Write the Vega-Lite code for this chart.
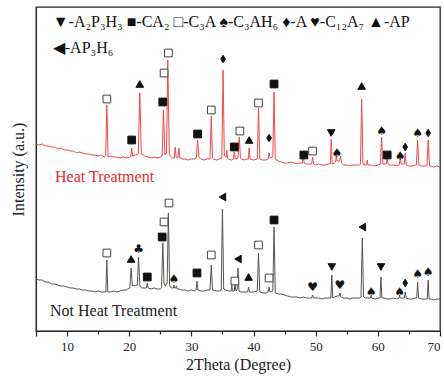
{
"$schema":"https://vega.github.io/schema/vega-lite/v6.json",
"width":404,"height":324,"autosize":"none",
"padding":{"left":36,"top":7,"right":4,"bottom":53},
"config":{"view":{"stroke":"#222","strokeWidth":1.3},"font":"Liberation Serif","background":"white"},
"datasets":{
"curves":[
{"s":"H","x":5,"y":187},{"s":"H","x":5.5,"y":186},{"s":"H","x":6,"y":187},{"s":"H","x":6.5,"y":185},{"s":"H","x":7,"y":185},{"s":"H","x":7.5,"y":184},{"s":"H","x":8,"y":184},{"s":"H","x":8.5,"y":182},{"s":"H","x":9,"y":183},{"s":"H","x":9.5,"y":181},{"s":"H","x":10,"y":181},{"s":"H","x":10.5,"y":180},{"s":"H","x":11,"y":180},{"s":"H","x":11.5,"y":178},{"s":"H","x":12,"y":179},{"s":"H","x":12.5,"y":178},{"s":"H","x":13,"y":177},{"s":"H","x":13.5,"y":177},{"s":"H","x":14,"y":176},{"s":"H","x":14.5,"y":176},{"s":"H","x":15,"y":175},{"s":"H","x":15.5,"y":176},{"s":"H","x":16,"y":174},{"s":"H","x":16.2,"y":175},{"s":"H","x":16.4,"y":226},{"s":"H","x":16.6,"y":174},{"s":"H","x":17,"y":175},{"s":"H","x":17.5,"y":174},{"s":"H","x":18,"y":174},{"s":"H","x":18.5,"y":173},{"s":"H","x":19,"y":174},{"s":"H","x":19.5,"y":173},{"s":"H","x":20,"y":174},{"s":"H","x":20.25,"y":174},{"s":"H","x":20.4,"y":183},{"s":"H","x":20.55,"y":175},{"s":"H","x":21,"y":176},{"s":"H","x":21.45,"y":177},{"s":"H","x":21.7,"y":238},{"s":"H","x":21.95,"y":177},{"s":"H","x":22.5,"y":175},{"s":"H","x":23,"y":174},{"s":"H","x":23.5,"y":173},{"s":"H","x":24,"y":174},{"s":"H","x":24.5,"y":173},{"s":"H","x":25,"y":174},{"s":"H","x":25.3,"y":175},{"s":"H","x":25.5,"y":221},{"s":"H","x":25.75,"y":176},{"s":"H","x":26,"y":178},{"s":"H","x":26.2,"y":271},{"s":"H","x":26.45,"y":176},{"s":"H","x":26.8,"y":174},{"s":"H","x":27,"y":173},{"s":"H","x":27.25,"y":173},{"s":"H","x":27.4,"y":184},{"s":"H","x":27.55,"y":174},{"s":"H","x":27.75,"y":173},{"s":"H","x":27.85,"y":174},{"s":"H","x":28,"y":183},{"s":"H","x":28.15,"y":173},{"s":"H","x":28.5,"y":172},{"s":"H","x":29,"y":172},{"s":"H","x":29.5,"y":171},{"s":"H","x":30,"y":172},{"s":"H","x":30.5,"y":172},{"s":"H","x":30.8,"y":173},{"s":"H","x":31,"y":191},{"s":"H","x":31.2,"y":174},{"s":"H","x":31.5,"y":172},{"s":"H","x":32,"y":171},{"s":"H","x":32.5,"y":172},{"s":"H","x":33,"y":172},{"s":"H","x":33.2,"y":215},{"s":"H","x":33.4,"y":173},{"s":"H","x":33.6,"y":172},{"s":"H","x":34,"y":171},{"s":"H","x":34.5,"y":172},{"s":"H","x":34.9,"y":173},{"s":"H","x":35.1,"y":261},{"s":"H","x":35.3,"y":175},{"s":"H","x":35.5,"y":174},{"s":"H","x":35.6,"y":174},{"s":"H","x":35.7,"y":181},{"s":"H","x":35.8,"y":173},{"s":"H","x":36,"y":172},{"s":"H","x":36.5,"y":171},{"s":"H","x":36.75,"y":172},{"s":"H","x":36.9,"y":179},{"s":"H","x":37.05,"y":172},{"s":"H","x":37.5,"y":173},{"s":"H","x":37.7,"y":194},{"s":"H","x":37.9,"y":173},{"s":"H","x":38.1,"y":172},{"s":"H","x":38.5,"y":171},{"s":"H","x":39,"y":172},{"s":"H","x":39.15,"y":172},{"s":"H","x":39.3,"y":183},{"s":"H","x":39.45,"y":172},{"s":"H","x":40,"y":171},{"s":"H","x":40.6,"y":172},{"s":"H","x":40.8,"y":223},{"s":"H","x":41,"y":172},{"s":"H","x":41.5,"y":171},{"s":"H","x":42,"y":171},{"s":"H","x":42.35,"y":172},{"s":"H","x":42.5,"y":178},{"s":"H","x":42.65,"y":173},{"s":"H","x":43.1,"y":174},{"s":"H","x":43.3,"y":239},{"s":"H","x":43.5,"y":172},{"s":"H","x":44,"y":170},{"s":"H","x":44.5,"y":169},{"s":"H","x":45,"y":168},{"s":"H","x":45.5,"y":168},{"s":"H","x":46,"y":169},{"s":"H","x":46.5,"y":168},{"s":"H","x":47,"y":167},{"s":"H","x":47.5,"y":168},{"s":"H","x":47.85,"y":168},{"s":"H","x":48,"y":174},{"s":"H","x":48.15,"y":168},{"s":"H","x":48.5,"y":167},{"s":"H","x":49,"y":167},{"s":"H","x":49.35,"y":167},{"s":"H","x":49.5,"y":174},{"s":"H","x":49.65,"y":167},{"s":"H","x":50,"y":166},{"s":"H","x":50.5,"y":167},{"s":"H","x":51,"y":166},{"s":"H","x":51.5,"y":166},{"s":"H","x":52,"y":167},{"s":"H","x":52.35,"y":167},{"s":"H","x":52.5,"y":192},{"s":"H","x":52.65,"y":167},{"s":"H","x":53,"y":168},{"s":"H","x":53.2,"y":169},{"s":"H","x":53.3,"y":176},{"s":"H","x":53.45,"y":170},{"s":"H","x":53.85,"y":170},{"s":"H","x":54,"y":175},{"s":"H","x":54.15,"y":168},{"s":"H","x":54.5,"y":166},{"s":"H","x":55,"y":166},{"s":"H","x":55.5,"y":165},{"s":"H","x":56,"y":166},{"s":"H","x":56.5,"y":166},{"s":"H","x":57,"y":166},{"s":"H","x":57.2,"y":167},{"s":"H","x":57.4,"y":232},{"s":"H","x":57.6,"y":167},{"s":"H","x":58,"y":166},{"s":"H","x":58.2,"y":166},{"s":"H","x":58.3,"y":171},{"s":"H","x":58.4,"y":166},{"s":"H","x":59,"y":166},{"s":"H","x":59.5,"y":165},{"s":"H","x":60,"y":166},{"s":"H","x":60.4,"y":167},{"s":"H","x":60.6,"y":194},{"s":"H","x":60.8,"y":167},{"s":"H","x":61.35,"y":167},{"s":"H","x":61.5,"y":173},{"s":"H","x":61.65,"y":167},{"s":"H","x":62,"y":166},{"s":"H","x":62.5,"y":166},{"s":"H","x":63,"y":165},{"s":"H","x":63.45,"y":166},{"s":"H","x":63.6,"y":173},{"s":"H","x":63.75,"y":167},{"s":"H","x":64,"y":167},{"s":"H","x":64.25,"y":167},{"s":"H","x":64.4,"y":178},{"s":"H","x":64.55,"y":166},{"s":"H","x":65,"y":165},{"s":"H","x":65.5,"y":165},{"s":"H","x":66,"y":166},{"s":"H","x":66.2,"y":166},{"s":"H","x":66.4,"y":191},{"s":"H","x":66.6,"y":166},{"s":"H","x":67,"y":165},{"s":"H","x":67.5,"y":165},{"s":"H","x":67.9,"y":165},{"s":"H","x":68.1,"y":191},{"s":"H","x":68.3,"y":165},{"s":"H","x":68.5,"y":165},{"s":"H","x":69,"y":164},{"s":"H","x":69.5,"y":165},{"s":"H","x":70,"y":164},
{"s":"N","x":5,"y":52},{"s":"N","x":5.5,"y":51},{"s":"N","x":6,"y":51},{"s":"N","x":6.5,"y":49},{"s":"N","x":7,"y":49},{"s":"N","x":7.5,"y":47},{"s":"N","x":8,"y":47},{"s":"N","x":8.5,"y":46},{"s":"N","x":9,"y":45},{"s":"N","x":9.5,"y":45},{"s":"N","x":10,"y":44},{"s":"N","x":10.5,"y":43},{"s":"N","x":11,"y":43},{"s":"N","x":11.5,"y":42},{"s":"N","x":12,"y":42},{"s":"N","x":12.5,"y":41},{"s":"N","x":13,"y":41},{"s":"N","x":13.5,"y":40},{"s":"N","x":14,"y":40},{"s":"N","x":14.5,"y":39},{"s":"N","x":15,"y":40},{"s":"N","x":15.5,"y":39},{"s":"N","x":16,"y":39},{"s":"N","x":16.25,"y":39},{"s":"N","x":16.4,"y":71},{"s":"N","x":16.55,"y":39},{"s":"N","x":17,"y":39},{"s":"N","x":17.5,"y":40},{"s":"N","x":18,"y":39},{"s":"N","x":18.5,"y":40},{"s":"N","x":19,"y":41},{"s":"N","x":19.5,"y":41},{"s":"N","x":20.1,"y":43},{"s":"N","x":20.3,"y":63},{"s":"N","x":20.5,"y":45},{"s":"N","x":21.3,"y":46},{"s":"N","x":21.5,"y":74},{"s":"N","x":21.7,"y":45},{"s":"N","x":22,"y":43},{"s":"N","x":22.5,"y":43},{"s":"N","x":22.75,"y":43},{"s":"N","x":22.9,"y":48},{"s":"N","x":23.05,"y":43},{"s":"N","x":23.5,"y":42},{"s":"N","x":24,"y":43},{"s":"N","x":24.5,"y":42},{"s":"N","x":25,"y":42},{"s":"N","x":25.2,"y":43},{"s":"N","x":25.4,"y":88},{"s":"N","x":25.6,"y":47},{"s":"N","x":25.8,"y":45},{"s":"N","x":26.1,"y":48},{"s":"N","x":26.3,"y":118},{"s":"N","x":26.5,"y":45},{"s":"N","x":26.8,"y":43},{"s":"N","x":27.1,"y":43},{"s":"N","x":27.2,"y":46},{"s":"N","x":27.3,"y":43},{"s":"N","x":27.5,"y":43},{"s":"N","x":27.6,"y":45},{"s":"N","x":27.7,"y":42},{"s":"N","x":28,"y":42},{"s":"N","x":28.5,"y":41},{"s":"N","x":29,"y":41},{"s":"N","x":29.5,"y":40},{"s":"N","x":30,"y":41},{"s":"N","x":30.5,"y":40},{"s":"N","x":30.75,"y":41},{"s":"N","x":30.9,"y":50},{"s":"N","x":31.05,"y":41},{"s":"N","x":31.5,"y":40},{"s":"N","x":32,"y":40},{"s":"N","x":32.5,"y":41},{"s":"N","x":33,"y":41},{"s":"N","x":33.2,"y":66},{"s":"N","x":33.4,"y":41},{"s":"N","x":34,"y":40},{"s":"N","x":34.5,"y":40},{"s":"N","x":34.8,"y":41},{"s":"N","x":35,"y":122},{"s":"N","x":35.2,"y":42},{"s":"N","x":35.5,"y":41},{"s":"N","x":36,"y":40},{"s":"N","x":36.4,"y":40},{"s":"N","x":36.5,"y":46},{"s":"N","x":36.6,"y":40},{"s":"N","x":36.9,"y":40},{"s":"N","x":37,"y":48},{"s":"N","x":37.15,"y":40},{"s":"N","x":37.35,"y":41},{"s":"N","x":37.5,"y":63},{"s":"N","x":37.65,"y":40},{"s":"N","x":38,"y":39},{"s":"N","x":38.5,"y":39},{"s":"N","x":39.05,"y":39},{"s":"N","x":39.2,"y":44},{"s":"N","x":39.35,"y":39},{"s":"N","x":39.6,"y":39},{"s":"N","x":40,"y":39},{"s":"N","x":40.6,"y":40},{"s":"N","x":40.8,"y":78},{"s":"N","x":41,"y":39},{"s":"N","x":41.5,"y":38},{"s":"N","x":42,"y":38},{"s":"N","x":42.35,"y":39},{"s":"N","x":42.5,"y":44},{"s":"N","x":42.65,"y":39},{"s":"N","x":43.1,"y":40},{"s":"N","x":43.3,"y":104},{"s":"N","x":43.5,"y":38},{"s":"N","x":44,"y":37},{"s":"N","x":44.5,"y":37},{"s":"N","x":45,"y":36},{"s":"N","x":45.5,"y":35},{"s":"N","x":46,"y":34},{"s":"N","x":46.5,"y":34},{"s":"N","x":47,"y":34},{"s":"N","x":47.5,"y":33},{"s":"N","x":48,"y":34},{"s":"N","x":48.5,"y":33},{"s":"N","x":49,"y":33},{"s":"N","x":49.35,"y":33},{"s":"N","x":49.5,"y":36},{"s":"N","x":49.65,"y":33},{"s":"N","x":50,"y":33},{"s":"N","x":50.5,"y":33},{"s":"N","x":51,"y":32},{"s":"N","x":51.5,"y":33},{"s":"N","x":52,"y":33},{"s":"N","x":52.45,"y":33},{"s":"N","x":52.6,"y":56},{"s":"N","x":52.75,"y":33},{"s":"N","x":53,"y":34},{"s":"N","x":53.5,"y":35},{"s":"N","x":53.75,"y":35},{"s":"N","x":53.9,"y":38},{"s":"N","x":54.05,"y":34},{"s":"N","x":54.5,"y":33},{"s":"N","x":55,"y":33},{"s":"N","x":55.5,"y":32},{"s":"N","x":56,"y":33},{"s":"N","x":56.5,"y":33},{"s":"N","x":57,"y":33},{"s":"N","x":57.3,"y":34},{"s":"N","x":57.5,"y":93},{"s":"N","x":57.7,"y":34},{"s":"N","x":58,"y":33},{"s":"N","x":58.5,"y":33},{"s":"N","x":58.8,"y":33},{"s":"N","x":58.9,"y":35},{"s":"N","x":59,"y":33},{"s":"N","x":59.5,"y":32},{"s":"N","x":60,"y":33},{"s":"N","x":60.35,"y":33},{"s":"N","x":60.5,"y":54},{"s":"N","x":60.65,"y":33},{"s":"N","x":61,"y":33},{"s":"N","x":61.5,"y":32},{"s":"N","x":62,"y":32},{"s":"N","x":62.5,"y":33},{"s":"N","x":63,"y":32},{"s":"N","x":63.4,"y":33},{"s":"N","x":63.5,"y":35},{"s":"N","x":63.6,"y":33},{"s":"N","x":64,"y":33},{"s":"N","x":64.25,"y":33},{"s":"N","x":64.4,"y":39},{"s":"N","x":64.55,"y":33},{"s":"N","x":65,"y":32},{"s":"N","x":65.5,"y":32},{"s":"N","x":66,"y":33},{"s":"N","x":66.25,"y":33},{"s":"N","x":66.4,"y":49},{"s":"N","x":66.55,"y":33},{"s":"N","x":67,"y":32},{"s":"N","x":67.5,"y":32},{"s":"N","x":67.95,"y":32},{"s":"N","x":68.1,"y":51},{"s":"N","x":68.25,"y":32},{"s":"N","x":68.5,"y":32},{"s":"N","x":69,"y":31},{"s":"N","x":69.5,"y":32},{"s":"N","x":70,"y":32}
],
"shapes":[
{"k":"osq","x":16.4,"y":232},{"k":"sq","x":20.4,"y":191},{"k":"up","x":21.7,"y":247},{"k":"sq","x":25.4,"y":229},{"k":"osq","x":25.6,"y":258},{"k":"osq","x":26.3,"y":278},{"k":"sq","x":31.0,"y":197},{"k":"osq","x":33.2,"y":221},{"k":"dia","x":35.1,"y":272},{"k":"sq","x":36.9,"y":184},{"k":"osq","x":37.8,"y":200},{"k":"up","x":39.3,"y":191},{"k":"osq","x":40.8,"y":228},{"k":"dia","x":42.5,"y":193},{"k":"sq","x":43.3,"y":247},{"k":"sq","x":48.1,"y":176},{"k":"osq","x":49.5,"y":180},{"k":"down","x":52.5,"y":198},{"k":"up","x":57.4,"y":245},{"k":"sq","x":61.5,"y":176},{"k":"dia","x":64.4,"y":184},{"k":"dia","x":68.1,"y":198},
{"k":"osq","x":16.4,"y":78},{"k":"up","x":20.3,"y":72},{"k":"sq","x":22.9,"y":54},{"k":"sq","x":25.3,"y":94},{"k":"osq","x":25.6,"y":109},{"k":"osq","x":26.4,"y":128},{"k":"sq","x":30.9,"y":58},{"k":"osq","x":33.2,"y":76},{"k":"left","x":35.0,"y":134},{"k":"osq","x":37.0,"y":50},{"k":"left","x":37.5,"y":72},{"k":"up","x":39.2,"y":54},{"k":"osq","x":40.8,"y":86},{"k":"osq","x":42.5,"y":53},{"k":"sq","x":43.3,"y":111},{"k":"down","x":52.6,"y":64},{"k":"left","x":57.5,"y":104},{"k":"down","x":60.5,"y":64},{"k":"dia","x":64.4,"y":48}
],
"glyphs":[
{"m":"♠","x":53.4,"y":178},{"m":"♠","x":60.6,"y":200},{"m":"♠","x":63.6,"y":175},{"m":"♠","x":66.4,"y":198},
{"m":"♣","x":21.5,"y":82},{"m":"♠","x":27.2,"y":52},{"m":"♥","x":49.5,"y":44},{"m":"♥","x":53.9,"y":46},{"m":"♠","x":58.9,"y":39},{"m":"♠","x":63.5,"y":39},{"m":"♠","x":66.4,"y":57},{"m":"♠","x":68.1,"y":59}
],
"legend":[
{"t":"▼-A₂P₃H₃ ■-CA₂ □-C₃A ♠-C₃AH₆ ♦-A ♥-C₁₂A₇ ▲-AP","x":7.7,"y":309},
{"t":"◀-AP₃H₆","x":7.7,"y":283}
],
"labels":[
{"t":"Heat Treatment","s":"H","x":8.06,"y":154},
{"t":"Not Heat Treatment","s":"N","x":7.25,"y":20}
]
},
"layer":[
{"data":{"name":"curves"},
 "mark":{"type":"line","strokeWidth":1,"clip":true,"interpolate":"linear"},
 "encoding":{
  "x":{"field":"x","type":"quantitative","scale":{"domain":[5,70],"nice":false,"zero":false},
   "axis":{"title":"2Theta (Degree)","orient":"bottom","values":[5,10,20,30,40,50,60,70],
    "labelExpr":"datum.value >= 10 ? datum.label : ''",
    "tickSize":5,"tickColor":"#222","domainColor":"#222","tickWidth":1.2,"labelPadding":4,"labelFontSize":13,"labelColor":"#222","labelFont":"Liberation Serif",
    "titleFontSize":16,"titleFontWeight":"normal","titleColor":"#222","titleFont":"Liberation Serif","titlePadding":3,"grid":false}},
  "y":{"field":"y","type":"quantitative","scale":{"domain":[0,324],"nice":false},
   "axis":{"title":"Intensity (a.u.)","ticks":false,"labels":false,"grid":false,"domainColor":"#222","titleFontSize":16,"titleFontWeight":"normal","titleColor":"#222","titleFont":"Liberation Serif","titlePadding":10}},
  "color":{"field":"s","type":"nominal","scale":{"domain":["H","N"],"range":["#f04848","#555555"]},"legend":null}
 }},
{"data":{"name":"shapes"},
 "mark":{"type":"point","filled":false,"strokeWidth":1,"opacity":1},
 "encoding":{
  "x":{"field":"x","type":"quantitative","axis":{"orient":"bottom","values":[15,25,35,45,55,65],"tickSize":3,"tickColor":"#222","tickWidth":1.2,"labels":false,"domain":false,"title":null,"grid":false}},
  "y":{"field":"y","type":"quantitative"},
  "shape":{"field":"k","type":"nominal","scale":{"domain":["sq","osq","up","down","left","dia"],"range":["square","square","triangle-up","triangle-down","triangle-left","M0,-1L0.62,0L0,1L-0.62,0Z"]},"legend":null},
  "size":{"field":"k","type":"nominal","scale":{"domain":["sq","osq","up","down","left","dia"],"range":[60,56,80,80,80,75]},"legend":null},
  "fill":{"condition":{"test":"datum.k === 'osq'","value":"white"},"value":"#111"},
  "stroke":{"condition":{"test":"datum.k === 'osq'","value":"#444"},"value":"#111"}
 }},
{"data":{"name":"glyphs"},
 "mark":{"type":"text","font":"DejaVu Sans","fontSize":12,"align":"center","baseline":"middle","color":"#111"},
 "encoding":{"x":{"field":"x","type":"quantitative","axis":null},"y":{"field":"y","type":"quantitative"},"text":{"field":"m"}}},
{"data":{"name":"legend"},
 "mark":{"type":"text","font":"Liberation Serif","fontSize":16,"align":"left","baseline":"middle","color":"#111"},
 "encoding":{"x":{"field":"x","type":"quantitative","axis":null},"y":{"field":"y","type":"quantitative"},"text":{"field":"t"}}},
{"data":{"name":"labels"},
 "mark":{"type":"text","font":"Liberation Serif","fontSize":16,"align":"left","baseline":"middle"},
 "encoding":{"x":{"field":"x","type":"quantitative","axis":null},"y":{"field":"y","type":"quantitative"},"text":{"field":"t"},
  "color":{"field":"s","type":"nominal","scale":{"domain":["H","N"],"range":["#ee2a2a","#222222"]},"legend":null}}}
],
"resolve":{"scale":{"color":"independent"},"axis":{"x":"independent"}}
}
